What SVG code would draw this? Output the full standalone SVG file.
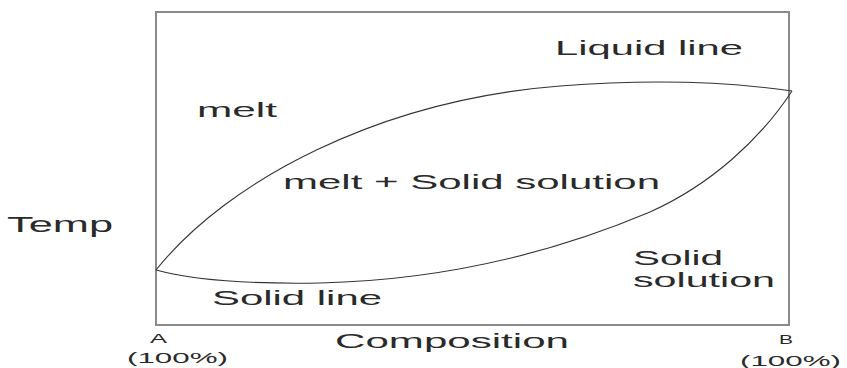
<svg xmlns="http://www.w3.org/2000/svg" width="847" height="368" viewBox="0 0 847 368">
  <style>
    .lbl { font-family: "Liberation Sans", Arial, sans-serif; fill: #2a2a2a; }
    .big { font-size: 20px; }
    .small { font-size: 12px; }
    .pct { font-size: 15px; }
    .curve { fill: none; stroke: #333; stroke-width: 1.1; }
    .frame { fill: none; stroke: #8a8a8a; stroke-width: 2; }
  </style>
  <rect width="847" height="368" fill="#ffffff"/>
  <g id="frame">
    <rect class="frame" x="156" y="12" width="633" height="313"/>
  </g>
  <g id="curves">
    <path id="liquid-curve" class="curve" d="M156,270 C228,180 380,100 560,86 C650,79 730,82 792,91"/>
    <path id="solid-curve" class="curve" d="M156,270 C200,282 260,284 320,283 C450,280 560,250 650,212 C710,185 760,140 792,91"/>
  </g>
  <g id="labels">
    <text class="lbl big" x="197" y="117" textLength="80" lengthAdjust="spacingAndGlyphs">melt</text>
    <text class="lbl big" x="555" y="55" textLength="188" lengthAdjust="spacingAndGlyphs">Liquid line</text>
    <text class="lbl big" x="283" y="189" textLength="377" lengthAdjust="spacingAndGlyphs">melt + Solid solution</text>
    <text class="lbl big" x="7" y="232" style="font-size:22px" textLength="106" lengthAdjust="spacingAndGlyphs">Temp</text>
    <text class="lbl big" x="633" y="265" textLength="90" lengthAdjust="spacingAndGlyphs">Solid</text>
    <text class="lbl big" x="633" y="287" textLength="142" lengthAdjust="spacingAndGlyphs">solution</text>
    <text class="lbl big" x="212" y="305" textLength="170" lengthAdjust="spacingAndGlyphs">Solid line</text>
    <text class="lbl big" x="335" y="348" textLength="234" lengthAdjust="spacingAndGlyphs">Composition</text>
    <text class="lbl small" x="150" y="343" textLength="17" lengthAdjust="spacingAndGlyphs">A</text>
    <text class="lbl pct" x="127" y="363" textLength="101" lengthAdjust="spacingAndGlyphs">(100%)</text>
    <text class="lbl small" x="779" y="344" textLength="14" lengthAdjust="spacingAndGlyphs">B</text>
    <text class="lbl pct" x="740" y="366" textLength="101" lengthAdjust="spacingAndGlyphs">(100%)</text>
  </g>
</svg>
